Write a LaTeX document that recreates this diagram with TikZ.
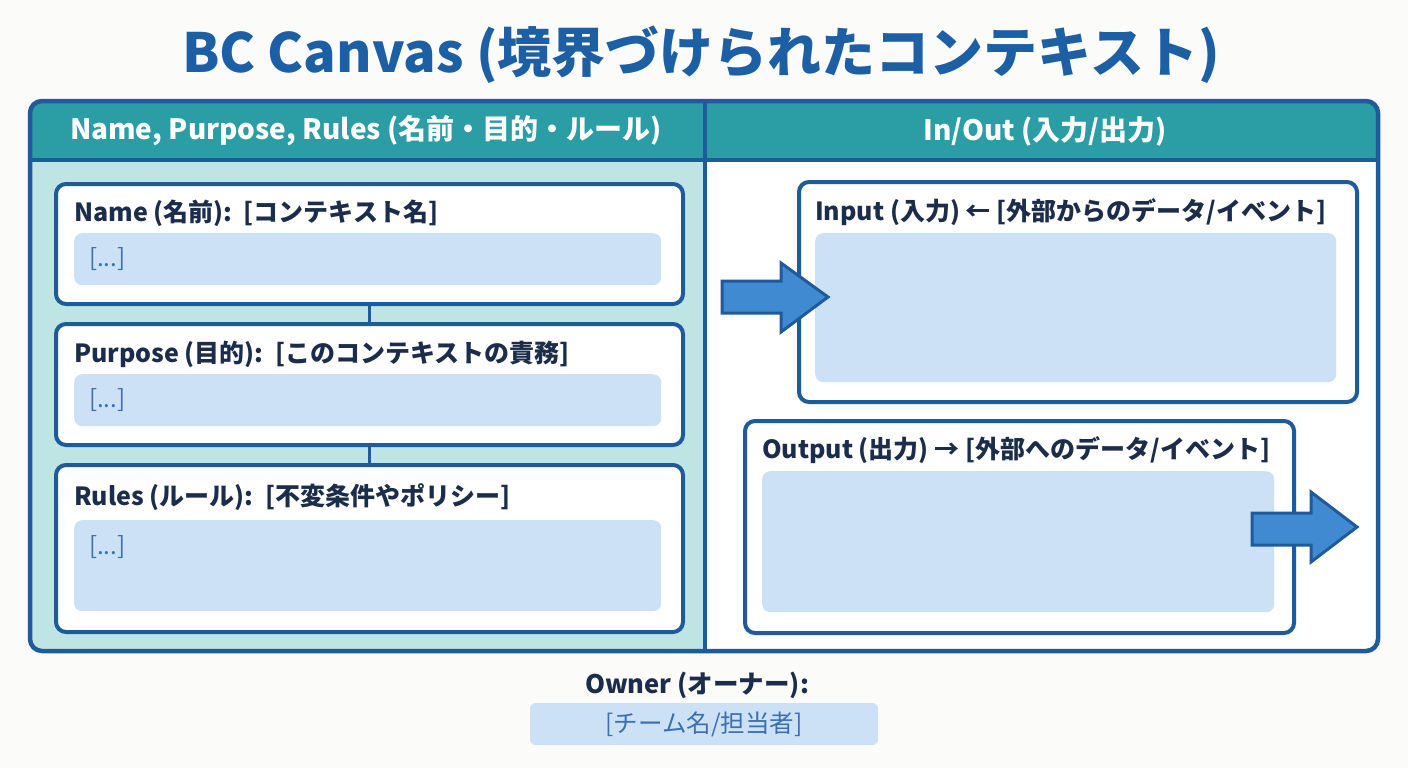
\documentclass[tikz,border=0pt]{standalone}
\usepackage{fontspec}
\setmainfont{Noto Sans CJK JP}
\definecolor{bg}{HTML}{FBFBF9}
\definecolor{frame}{HTML}{1F5A9A}
\definecolor{teal}{HTML}{2A9DA5}
\definecolor{panel}{HTML}{BEE5E4}
\definecolor{field}{HTML}{CDE1F6}
\definecolor{arrowfill}{HTML}{3F8AD0}
\definecolor{titleblue}{HTML}{1C5FA5}
\definecolor{navy}{HTML}{1B2D4A}
\definecolor{hint}{HTML}{3A6FB0}
\tikzset{
  card/.style={draw=frame, line width=4pt, fill=white, rounded corners=10pt, anchor=north west, inner sep=0pt},
  fieldbox/.style={fill=field, rounded corners=8pt, anchor=north west, inner sep=0pt},
  cardtitle/.style={anchor=west, text=navy, font=\bfseries\fontsize{25}{30}\selectfont, inner sep=0pt},
  hinttext/.style={anchor=west, text=hint, font=\fontsize{24}{28}\selectfont, inner sep=0pt},
  headtext/.style={text=white, font=\bfseries\fontsize{28}{32}\selectfont, inner sep=0pt},
  blockarrow/.style={draw=frame, line width=3pt, fill=arrowfill, line join=miter},
  link/.style={draw=frame, line width=3pt}
}
\begin{document}
\begin{tikzpicture}[x=1pt,y=-1pt]
\fill[bg] (0,0) rectangle (1408,768);
\useasboundingbox (0,0) rectangle (1408,768);

% title
\node[text=titleblue, font=\bfseries\fontsize{54}{60}\selectfont, inner sep=0pt] (title) at (701,55) {BC Canvas (境界づけられたコンテキスト)};

% outer frame
\begin{scope}
\clip[rounded corners=12pt] (30,101) rectangle (1378,651);
\fill[white] (30,101) rectangle (1378,651);
\fill[panel] (30,160) rectangle (705,651);
\fill[teal] (30,101) rectangle (1378,160);
\end{scope}
\draw[frame, line width=4pt] (30,160) -- (1378,160);
\draw[frame, line width=4pt] (705,101) -- (705,651);
\draw[frame, line width=4.5pt, rounded corners=12pt] (30,101) rectangle (1378,651);

\node[headtext] (lhead) at (366,131) {Name, Purpose, Rules (名前・目的・ルール)};
\node[headtext] (rhead) at (1045,131) {In/Out (入力/出力)};

% left cards
\node[card, minimum width=627, minimum height=120] (namebox) at (54,182) {};
\node[fieldbox, minimum width=587, minimum height=52] (namefield) at (74,233) {};
\node[cardtitle] (nametitle) at (74,213) {Name (名前):\ \ [コンテキスト名]};
\node[hinttext] (namehint) at (89,259) {[...]};

\node[card, minimum width=627, minimum height=121] (purposebox) at (54,322) {};
\node[fieldbox, minimum width=587, minimum height=52] (purposefield) at (74,374) {};
\node[cardtitle] (purposetitle) at (74,354) {Purpose (目的):\ \ [このコンテキストの責務]};
\node[hinttext] (purposehint) at (89,400) {[...]};

\node[card, minimum width=627, minimum height=167] (rulesbox) at (54,463) {};
\node[fieldbox, minimum width=587, minimum height=91] (rulesfield) at (74,520) {};
\node[cardtitle] (rulestitle) at (74,497) {Rules (ルール):\ \ [不変条件やポリシー]};
\node[hinttext] (ruleshint) at (89,547) {[...]};

\draw[link] (namebox.south) -- (purposebox.north);
\draw[link] (purposebox.south) -- (rulesbox.north);

% right cards
\node[card, minimum width=558, minimum height=220] (inputbox) at (797,180) {};
\node[fieldbox, minimum width=521, minimum height=149] (inputfield) at (815,233) {};
\node[cardtitle] (inputtitle) at (815,212) {Input (入力) ← [外部からのデータ/イベント]};

\node[card, minimum width=549, minimum height=212] (outputbox) at (743,419) {};
\node[fieldbox, minimum width=512, minimum height=141] (outputfield) at (762,471) {};
\node[cardtitle] (outputtitle) at (762,450) {Output (出力) → [外部へのデータ/イベント]};

% block arrows
\draw[blockarrow] (722,281) -- (781,281) -- (781,263) -- (828,297) -- (781,332) -- (781,313) -- (722,313) -- cycle;
\draw[blockarrow] (1252,513) -- (1311,513) -- (1311,492) -- (1357,527) -- (1311,562) -- (1311,545) -- (1252,545) -- cycle;

% owner
\node[text=navy, font=\bfseries\fontsize{25.5}{30}\selectfont, inner sep=0pt] (owner) at (697,685) {Owner (オーナー):};
\node[fill=field, rounded corners=6pt, minimum width=348, minimum height=42, inner sep=0pt, text=hint, font=\fontsize{24.5}{28}\selectfont] (ownerfield) at (704,724) {[チーム名/担当者]};
\end{tikzpicture}
\end{document}
